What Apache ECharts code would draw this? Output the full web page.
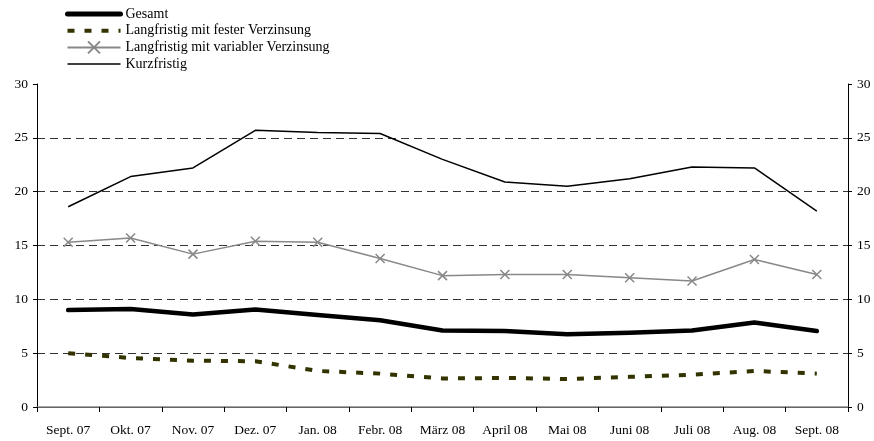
<!DOCTYPE html>
<html>
<head>
<meta charset="utf-8">
<script src="https://cdn.jsdelivr.net/npm/echarts@6/dist/echarts.min.js"></script>
<style>
  html, body { margin: 0; padding: 0; background: #fff; }
  #chart { width: 874px; height: 441px; }
</style>
</head>
<body>
<div id="chart"></div>
<script>
const months = ['Sept. 07', 'Okt. 07', 'Nov. 07', 'Dez. 07', 'Jan. 08', 'Febr. 08', 'März 08',
  'April 08', 'Mai 08', 'Juni 08', 'Juli 08', 'Aug. 08', 'Sept. 08']
const gesamt = [9.0, 9.1, 8.6, 9.05, 8.55, 8.05, 7.1, 7.05, 6.75, 6.9, 7.1, 7.85, 7.05]
const festeVerzinsung = [5.0, 4.55, 4.3, 4.25, 3.35, 3.1, 2.65, 2.7, 2.6, 2.8, 3.0, 3.35, 3.1]
const variableVerzinsung = [15.3, 15.7, 14.2, 15.4, 15.3, 13.8, 12.2, 12.3, 12.3, 12.0, 11.7, 13.7, 12.3]
const kurzfristig = [18.6, 21.4, 22.2, 25.7, 25.5, 25.4, 23.0, 20.9, 20.5, 21.2, 22.3, 22.2, 18.2]

const font = 'Liberation Serif'
const crossMark = 'path://M0,0L10,10M10,0L0,10'

const myChart = echarts.init(document.getElementById('chart'))

const yAxisBase = {
  type: 'value',
  min: 0,
  max: 30,
  interval: 5,
  axisLine: { show: true, lineStyle: { color: '#000', width: 1 } },
  axisTick: { show: true, length: 4, lineStyle: { color: '#000' } },
  axisLabel: { color: '#000', fontFamily: font, fontSize: 13.5, margin: 9 },
}

myChart.setOption({
  animation: false,
  textStyle: { fontFamily: font },
  legend: {
    orient: 'vertical',
    left: 60,
    top: 2,
    itemWidth: 53,
    itemHeight: 15,
    itemGap: 2.7,
    textStyle: { color: '#000', fontFamily: font, fontSize: 14 },
    data: [
      { name: 'Gesamt', itemStyle: { opacity: 0 }, lineStyle: { width: 5 } },
      { name: 'Langfristig mit fester Verzinsung', itemStyle: { opacity: 0 }, lineStyle: { width: 4 } },
      { name: 'Langfristig mit variabler Verzinsung' },
      { name: 'Kurzfristig', itemStyle: { opacity: 0 }, lineStyle: { width: 1.5 } }
    ]
  },
  grid: { left: 37, right: 26, top: 84, bottom: 34 },
  xAxis: [
    {
      type: 'category',
      data: months,
      axisLine: { lineStyle: { color: '#000', width: 1 } },
      axisTick: { show: true, length: 5, lineStyle: { color: '#000' } },
      axisLabel: { color: '#000', fontFamily: font, fontSize: 13.5, margin: 16, interval: 0 },
    },
    {
      type: 'category',
      position: 'top',
      data: months,
      axisLine: { lineStyle: { color: '#888', width: 1.5 } },
      axisTick: { show: false },
      axisLabel: { show: false },
    }
  ],
  yAxis: [
    Object.assign({}, yAxisBase, {
      position: 'left',
      splitLine: {
        show: true,
        showMinLine: false,
        showMaxLine: false,
        lineStyle: { color: '#333', type: [8, 5], width: 1 }
      }
    }),
    Object.assign({}, yAxisBase, { position: 'right', splitLine: { show: false } })
  ],
  series: [
    {
      name: 'Gesamt',
      type: 'line',
      data: gesamt,
      symbol: 'none',
      lineStyle: { color: '#000', width: 4.5, cap: 'round', join: 'round' },
      itemStyle: { color: '#000' },
      z: 4
    },
    {
      name: 'Langfristig mit fester Verzinsung',
      type: 'line',
      data: festeVerzinsung,
      symbol: 'none',
      lineStyle: { color: '#333300', width: 4, type: [7, 10] },
      itemStyle: { color: '#333300' },
      z: 3
    },
    {
      name: 'Langfristig mit variabler Verzinsung',
      type: 'line',
      data: variableVerzinsung,
      symbol: crossMark,
      symbolSize: 9,
      showAllSymbol: true,
      lineStyle: { color: '#888', width: 1.5 },
      itemStyle: { color: 'rgba(0,0,0,0)', borderColor: '#888', borderWidth: 1.5 },
      z: 3
    },
    {
      name: 'Kurzfristig',
      type: 'line',
      data: kurzfristig,
      symbol: 'none',
      lineStyle: { color: '#000', width: 1.5 },
      itemStyle: { color: '#000' },
      z: 3
    }
  ]
})
</script>
</body>
</html>
